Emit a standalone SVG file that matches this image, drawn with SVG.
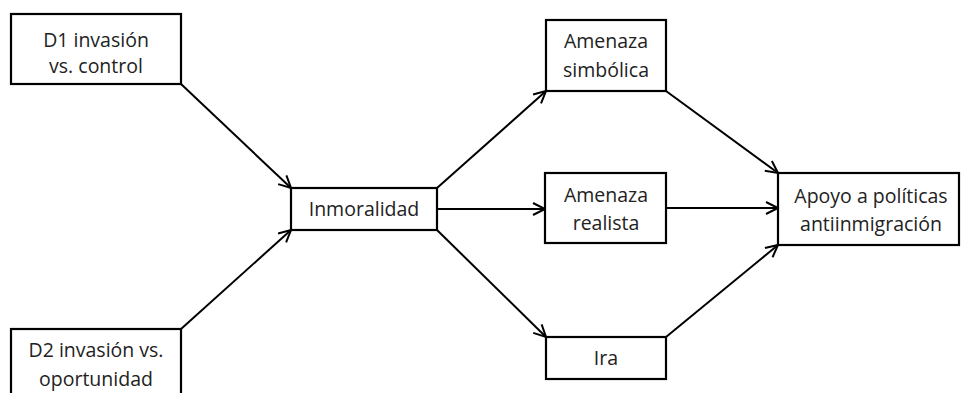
<svg xmlns="http://www.w3.org/2000/svg" width="961" height="393" viewBox="0 0 961 393">
<style>
.box{fill:#fff;stroke:#000;stroke-width:2.2}
.t{font-family:"Open Sans","Liberation Sans",sans-serif;font-size:19.5px;fill:#222;text-anchor:middle}
.c{fill:none;stroke:#000;stroke-width:2}
</style>
<defs>
<marker id="ah" markerWidth="16" markerHeight="16" refX="13" refY="7" orient="auto" markerUnits="userSpaceOnUse">
<path d="M1,1 L13,7 L1,13" fill="none" stroke="#000" stroke-width="2"/>
</marker>
</defs>
<rect width="961" height="393" fill="#fff"/>
<g id="connectors">
<line class="c" x1="181" y1="84" x2="291" y2="188" marker-end="url(#ah)"/>
<line class="c" x1="181" y1="329" x2="291" y2="230" marker-end="url(#ah)"/>
<line class="c" x1="437" y1="188" x2="546" y2="91" marker-end="url(#ah)"/>
<line class="c" x1="437" y1="209" x2="545" y2="209" marker-end="url(#ah)"/>
<line class="c" x1="437" y1="230" x2="546" y2="337" marker-end="url(#ah)"/>
<line class="c" x1="666" y1="91" x2="778" y2="173" marker-end="url(#ah)"/>
<line class="c" x1="666" y1="208" x2="778" y2="208" marker-end="url(#ah)"/>
<line class="c" x1="666" y1="337" x2="778" y2="245" marker-end="url(#ah)"/>
</g>
<g id="d1">
<rect class="box" x="11" y="14" width="170" height="70"/>
<text class="t" x="96" y="47">D1 invasión</text>
<text class="t" x="96" y="73">vs. control</text>
</g>
<g id="d2">
<rect class="box" x="11" y="329" width="170" height="80"/>
<text class="t" x="96" y="357">D2 invasión vs.</text>
<text class="t" x="96" y="386">oportunidad</text>
</g>
<g id="inmoralidad">
<rect class="box" x="291" y="188" width="146" height="42"/>
<text class="t" x="364" y="216">Inmoralidad</text>
</g>
<g id="simbolica">
<rect class="box" x="546" y="20" width="120" height="71"/>
<text class="t" x="606" y="48">Amenaza</text>
<text class="t" x="606" y="77">simbólica</text>
</g>
<g id="realista">
<rect class="box" x="545" y="173" width="121" height="70"/>
<text class="t" x="606" y="202">Amenaza</text>
<text class="t" x="606" y="230">realista</text>
</g>
<g id="ira">
<rect class="box" x="546" y="337" width="120" height="42"/>
<text class="t" x="606" y="365">Ira</text>
</g>
<g id="apoyo">
<rect class="box" x="778" y="173" width="181" height="72"/>
<text class="t" x="871" y="203">Apoyo a políticas</text>
<text class="t" x="871" y="231">antiinmigración</text>
</g>
</svg>
